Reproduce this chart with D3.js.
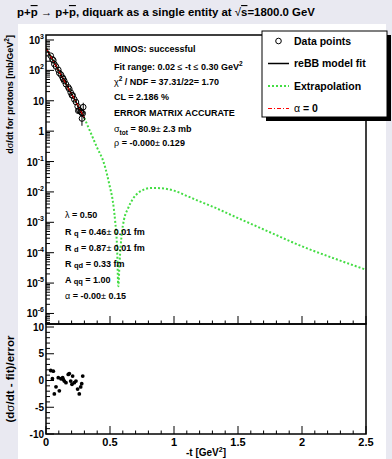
<!DOCTYPE html>
<html><head><meta charset="utf-8">
<script src="https://cdn.jsdelivr.net/npm/d3@7"></script>
<style>
body{margin:0;background:#e9e9f1;}
svg text{font-family:"Liberation Sans",Arial,Helvetica,sans-serif;font-weight:bold;fill:#000;}
.sym{font-weight:normal;}
</style></head><body>
<svg id="c" width="392" height="459"></svg>
<script>
// Measured |t| (GeV^2), dσ/dt (mb/GeV^2) and errors
const tData = [0.037, 0.050, 0.057, 0.065, 0.078, 0.096, 0.104, 0.117, 0.130, 0.135, 0.143, 0.156,
               0.174, 0.182, 0.193, 0.203, 0.208, 0.221, 0.234, 0.247, 0.260, 0.271, 0.279, 0.287];
const dsdt = [304, 232, 215, 161, 134, 104.5, 82.1, 71.9, 57.8, 52.2, 44.8, 35.1,
              27.7, 24.3, 18.7, 15.1, 15.1, 11.2, 9.10, 6.56, 4.88, 4.41, 4.00, 3.83];
const dsdtErr = [9.4, 7.5, 7.2, 5.6, 5.0, 4.1, 3.4, 3.1, 2.6, 2.35, 2.1, 1.7,
                 1.4, 1.3, 1.0, 0.83, 0.85, 0.65, 0.55, 0.41, 0.31, 0.29, 0.27, 0.26];
// Residuals (data - fit)/error
const resid = [1.87, 0.33, 1.74, -2.5, -1.19, 0.52, -1.93, 0.33, 0.52, 0.2, -0.1, -0.4,
               1.13, 1.3, -0.1, -0.7, 0.83, -0.4, -0.1, -1.6, -2.5, -1.2, -0.6, 0.83];
// Additional points with large errors near the end of the fit range
const tExtra = [0.252, 0.291, 0.281];
const dsdtExtra = [4.7, 6.2, 2.6];
const errExtra = [0.9, 2.4, 1.1];

// reBB model curve
const tModel = [0, 0.05, 0.1, 0.15, 0.2, 0.25, 0.3, 0.35, 0.4, 0.45, 0.5, 0.52, 0.54, 0.555, 0.565,
                0.575, 0.59, 0.61, 0.64, 0.68, 0.72, 0.76, 0.82, 0.9, 1.0, 1.1, 1.2, 1.3, 1.5,
                1.75, 2.0, 2.25, 2.5];
const dsdtModel = [550, 229, 95.5, 39.8, 16.6, 6.9, 2.63, 0.87, 0.282, 0.0955, 0.0141, 5.6e-3,
                   1.12e-3, 1.6e-4, 7.9e-6, 5.0e-5, 3.5e-4, 1.26e-3, 2.8e-3, 6.0e-3, 9.3e-3,
                   1.17e-2, 1.35e-2, 1.32e-2, 1.10e-2, 7.4e-3, 4.9e-3, 3.3e-3, 1.38e-3, 4.7e-4,
                   1.62e-4, 6.5e-5, 2.75e-5];
const fitRange = [0.02, 0.30];

// Axis ranges and tick labels
const tRange = [0, 2.5];
const yRange = [4.5e-7, 1460];
const residRange = [-10, 10];
const xTicks = [0, 0.5, 1, 1.5, 2, 2.5];
const xTickLabels = ["0", "0.5", "1", "1.5", "2", "2.5"];
const logExps = [3, 2, 1, 0, -1, -2, -3, -4, -5, -6];
const residTicks = [10, 5, 0, -5, -10];

const legendItems = ["Data points", "reBB model fit", "Extrapolation", "α = 0"];

const svg = d3.select("#c");

// white pad
svg.append("rect").attr("x", 18).attr("y", 24).attr("width", 368).attr("height", 435).attr("fill", "#fff");

const L = 46, R = 366, T1 = 35, B1 = 324, T2 = 324, B2 = 434;
const x = d3.scaleLinear().domain(tRange).range([L, R]);
const y = d3.scaleLog().domain(yRange).range([B1, T1]);
const yr = d3.scaleLinear().domain(residRange).range([B2, T2 + 3]);

// Title
const title = svg.append("text").attr("x", 17).attr("y", 16).style("font-size", "11.4px");
title.append("tspan").text("p+");
title.append("tspan").style("text-decoration", "overline").text("p");
title.append("tspan").attr("class", "sym").text(" → ");
title.append("tspan").text("p+");
title.append("tspan").style("text-decoration", "overline").text("p");
title.append("tspan").text(", diquark as a single entity at ");
title.append("tspan").attr("class", "sym").text("√");
title.append("tspan").style("text-decoration", "overline").text("s");
title.append("tspan").text("=1800.0 GeV");

// clip for the upper panel
svg.append("clipPath").attr("id", "clipTop").append("rect")
  .attr("x", L).attr("y", T1).attr("width", R - L).attr("height", B1 - T1);

const gTop = svg.append("g").attr("clip-path", "url(#clipTop)");
const modelPts = tModel.map((t, i) => [t, dsdtModel[i]]);
const line = d3.line().x(d => x(d[0])).y(d => y(d[1])).curve(d3.curveMonotoneX);

// extrapolation (green dotted)
gTop.append("path").attr("d", line(modelPts)).attr("fill", "none")
  .attr("stroke", "#44dd44").attr("stroke-width", 2).attr("stroke-dasharray", "2,2");

// data points with error bars
const pts = tData.map((t, i) => ({t, v: dsdt[i], e: dsdtErr[i]}))
  .concat(tExtra.map((t, i) => ({t, v: dsdtExtra[i], e: errExtra[i]})));
gTop.selectAll("line.err").data(pts).join("line").attr("class", "err")
  .attr("x1", d => x(d.t)).attr("x2", d => x(d.t))
  .attr("y1", d => y(d.v + d.e)).attr("y2", d => y(Math.max(d.v - d.e, 1e-9)))
  .attr("stroke", "#000").attr("stroke-width", 1);
gTop.selectAll("circle.pt").data(pts).join("circle").attr("class", "pt")
  .attr("cx", d => x(d.t)).attr("cy", d => y(d.v)).attr("r", 2.8)
  .attr("fill", "none").attr("stroke", "#000").attr("stroke-width", 1);

// fit curve within the fit range (black) and α = 0 curve (red dash-dot)
const inFit = modelPts.filter(d => d[0] <= fitRange[1]);
gTop.append("path").attr("d", line(inFit)).attr("fill", "none")
  .attr("stroke", "#000").attr("stroke-width", 1.5);
gTop.append("path").attr("d", line(inFit)).attr("fill", "none")
  .attr("stroke", "#ff0000").attr("stroke-width", 1).attr("stroke-dasharray", "4,2,1,2");

// upper frame and axes
svg.append("rect").attr("x", L).attr("y", T1).attr("width", R - L).attr("height", B1 - T1)
  .attr("fill", "none").attr("stroke", "#000").attr("stroke-width", 1.5);

const logMajor = logExps.map(e => Math.pow(10, e));
const logMinor = [];
for (let e = -7; e <= 3; e++) for (let m = 2; m <= 9; m++) {
  const v = m * Math.pow(10, e);
  if (v > yRange[0] && v < yRange[1]) logMinor.push(v);
}
svg.append("g").selectAll("line").data(logMajor).join("line")
  .attr("x1", L).attr("x2", L + 8).attr("y1", d => y(d)).attr("y2", d => y(d))
  .attr("stroke", "#000").attr("stroke-width", 1);
svg.append("g").selectAll("line").data(logMinor).join("line")
  .attr("x1", L).attr("x2", L + 4).attr("y1", d => y(d)).attr("y2", d => y(d))
  .attr("stroke", "#000").attr("stroke-width", 1);

const yLab = svg.append("g").selectAll("text").data(logExps).join("text")
  .attr("x", L - 2).attr("y", d => y(Math.pow(10, d)) + 4)
  .attr("text-anchor", "end").style("font-size", "10px");
yLab.each(function(e) {
  const s = d3.select(this);
  if (e === 0) { s.text("1"); return; }
  if (e === 1) { s.text("10"); return; }
  s.append("tspan").text("10");
  s.append("tspan").attr("dy", -5).style("font-size", "7px").text(String(e));
});

// x ticks (shared for both panels)
const xMinor = d3.range(0, 2.5001, 0.1);
function xTicksAt(yBase) {
  svg.append("g").selectAll("line").data(xMinor).join("line")
    .attr("x1", d => x(d)).attr("x2", d => x(d))
    .attr("y1", yBase).attr("y2", d => yBase - (Math.abs(d / 0.5 - Math.round(d / 0.5)) < 1e-6 ? 8 : 3.5))
    .attr("stroke", "#000").attr("stroke-width", 1);
}
xTicksAt(B1);

// y-axis title (upper)
svg.append("text").attr("transform", `translate(13,${T1}) rotate(-90)`)
  .attr("text-anchor", "end").style("font-size", "9px")
  .call(t => {
    t.append("tspan").text("d");
    t.append("tspan").attr("class", "sym").text("σ");
    t.append("tspan").text("/dt for protons [mb/GeV");
    t.append("tspan").attr("dy", -4).style("font-size", "6.5px").text("2");
    t.append("tspan").attr("dy", 4).text("]");
  });

// text blocks
function textLine(x0, yy, parts) {
  const t = svg.append("text").attr("x", x0).attr("y", yy).style("font-size", "9px");
  parts.forEach(p => {
    const s = t.append("tspan").text(p.s);
    if (p.sym) s.attr("class", "sym");
    if (p.dy) s.attr("dy", p.dy);
    if (p.fs) s.style("font-size", p.fs);
  });
}
// fit status block
const sx = 114;
textLine(sx, 52, [{s: "MINOS: successful"}]);
textLine(sx, 69.5, [{s: "Fit range: 0.02 "}, {s: "≤", sym: 1}, {s: " -t "}, {s: "≤", sym: 1}, {s: " 0.30 GeV"}, {s: "2", dy: -4, fs: "6.5px"}]);
textLine(sx, 84.5, [{s: "χ", sym: 1}, {s: "2", dy: -4, fs: "6.5px"}, {s: " / NDF = 37.31/22= 1.70", dy: 4}]);
textLine(sx, 99.5, [{s: "CL = 2.186 %"}]);
textLine(sx, 116, [{s: "ERROR MATRIX ACCURATE"}]);
textLine(sx, 132, [{s: "σ", sym: 1}, {s: "tot", dy: 3, fs: "6.5px"}, {s: " = 80.9", dy: -3}, {s: "±", sym: 1}, {s: "  2.3 mb"}]);
textLine(sx, 146, [{s: "ρ", sym: 1}, {s: " = -0.000"}, {s: "±", sym: 1}, {s: " 0.129"}]);

// model parameter block
const px = 65;
textLine(px, 218, [{s: "λ", sym: 1}, {s: " = 0.50"}]);
textLine(px, 234.5, [{s: "R "}, {s: "q", dy: 1.5, fs: "7.5px"}, {s: " = 0.46", dy: -1.5}, {s: "±", sym: 1}, {s: " 0.01 fm"}]);
textLine(px, 250.5, [{s: "R "}, {s: "d", dy: 1.5, fs: "7.5px"}, {s: " = 0.87", dy: -1.5}, {s: "±", sym: 1}, {s: " 0.01 fm"}]);
textLine(px, 266.5, [{s: "R "}, {s: "qd", dy: 1.5, fs: "7.5px"}, {s: " = 0.33 fm", dy: -1.5}]);
textLine(px, 282.5, [{s: "A "}, {s: "qq", dy: 1.5, fs: "7.5px"}, {s: " = 1.00", dy: -1.5}]);
textLine(px, 298.5, [{s: "α", sym: 1}, {s: " = -0.00"}, {s: "±", sym: 1}, {s: " 0.15"}]);

// legend
const lgX = 262, lgY = 31, lgW = 125, lgH = 86;
svg.append("rect").attr("x", lgX + 4).attr("y", lgY + 4).attr("width", lgW).attr("height", lgH).attr("fill", "#000");
svg.append("rect").attr("x", lgX).attr("y", lgY).attr("width", lgW).attr("height", lgH)
  .attr("fill", "#fff").attr("stroke", "#000").attr("stroke-width", 1);
const lgRows = [41, 63.5, 86, 108.5];
svg.append("circle").attr("cx", 278.5).attr("cy", lgRows[0]).attr("r", 2.8)
  .attr("fill", "none").attr("stroke", "#000");
svg.append("line").attr("x1", 268).attr("x2", 289).attr("y1", lgRows[1]).attr("y2", lgRows[1])
  .attr("stroke", "#000").attr("stroke-width", 1.5);
svg.append("line").attr("x1", 268).attr("x2", 289).attr("y1", lgRows[2]).attr("y2", lgRows[2])
  .attr("stroke", "#44dd44").attr("stroke-width", 2).attr("stroke-dasharray", "2,2");
svg.append("line").attr("x1", 268).attr("x2", 289).attr("y1", lgRows[3]).attr("y2", lgRows[3])
  .attr("stroke", "#ff0000").attr("stroke-width", 1).attr("stroke-dasharray", "4,2,1,2");
legendItems.forEach((s, i) => {
  const t = svg.append("text").attr("x", 294).attr("y", lgRows[i] + 3.8).style("font-size", "10.5px");
  if (s.startsWith("α")) {
    t.append("tspan").attr("class", "sym").text("α");
    t.append("tspan").text(s.slice(1));
  } else t.text(s);
});

// lower panel
svg.append("rect").attr("x", L).attr("y", T2).attr("width", R - L).attr("height", B2 - T2)
  .attr("fill", "none").attr("stroke", "#000").attr("stroke-width", 1.5);
xTicksAt(B2);
svg.append("g").selectAll("line").data(d3.range(-10, 10.01, 1)).join("line")
  .attr("x1", L).attr("x2", d => L + (d % 5 === 0 ? 8 : 4))
  .attr("y1", d => yr(d)).attr("y2", d => yr(d)).attr("stroke", "#000").attr("stroke-width", 1);
svg.append("g").selectAll("text").data(residTicks).join("text")
  .attr("x", L - 2).attr("y", d => yr(d) + 3.6).attr("text-anchor", "end")
  .style("font-size", "10px").text(d => d);

svg.append("g").selectAll("circle").data(tData).join("circle")
  .attr("cx", d => x(d)).attr("cy", (d, i) => yr(resid[i])).attr("r", 1.9).attr("fill", "#000");

svg.append("text").attr("transform", `translate(13.5,${(T2 + B2) / 2}) rotate(-90)`)
  .attr("text-anchor", "middle").style("font-size", "11.5px")
  .call(t => {
    t.append("tspan").text("(d");
    t.append("tspan").attr("class", "sym").text("σ");
    t.append("tspan").text("/dt - fit)/error");
  });

// x labels and title
svg.append("g").selectAll("text").data(xTicks).join("text")
  .attr("x", d => x(d)).attr("y", 445.5).attr("text-anchor", "middle")
  .style("font-size", "11px").text((d, i) => xTickLabels[i]);
svg.append("text").attr("x", (L + R) / 2).attr("y", 456).attr("text-anchor", "middle")
  .style("font-size", "10px")
  .call(t => {
    t.append("tspan").text("-t [GeV");
    t.append("tspan").attr("dy", -4).style("font-size", "7px").text("2");
    t.append("tspan").attr("dy", 4).text("]");
  });
</script>
</body></html>
